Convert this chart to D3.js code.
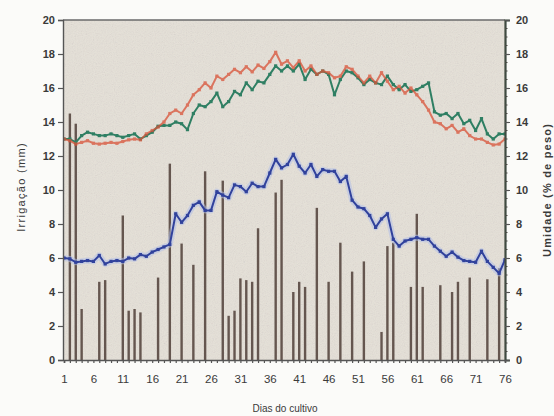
<!DOCTYPE html>
<html>
<head>
<meta charset="utf-8">
<script src="https://cdn.jsdelivr.net/npm/d3@7"></script>
<style>
  body { margin: 0; background: #fbfbf9; }
  svg { display: block; }
  text { font-family: "Liberation Sans", Arial, sans-serif; fill: #3a3a3a; }
</style>
</head>
<body>
<svg id="chart" width="554" height="416"></svg>
<script>
// irrigation events: day of cultivation and applied depth (mm)
const irrigDays = [2, 3, 4, 7, 8, 11, 12, 13, 14, 17, 19, 21, 23, 25, 28, 29, 30, 31, 32, 33, 34,
  37, 38, 40, 41, 42, 44, 46, 48, 50, 52, 55, 56, 57, 60, 61, 62, 65, 67, 68, 70, 73, 75]
const irrigMm = [14.5, 13.9, 3.0, 4.6, 4.7, 8.5, 2.9, 3.0, 2.8, 4.85, 11.55, 6.85, 5.6, 11.1, 10.55, 2.6, 2.9, 4.8, 4.7, 4.6, 7.75,
  9.85, 10.6, 4.0, 4.6, 4.3, 8.95, 4.6, 6.9, 5.2, 5.8, 1.65, 6.7, 6.9, 4.3, 8.6, 4.3, 4.4, 4.0, 4.6, 4.85, 4.75, 5.4]

// soil moisture (% by weight), one value per day 1..76
const umidRed = [13.0, 12.9, 12.7, 12.8, 12.9, 12.75, 12.7, 12.75, 12.8, 12.75, 12.85, 12.95, 13.0, 12.95, 13.3, 13.5,
  13.7, 14.0, 14.5, 14.7, 14.5, 15.0, 15.6, 15.9, 16.3, 16.0, 16.7, 16.5, 16.8, 17.1, 16.9, 17.25, 16.95, 17.35, 17.15,
  17.55, 18.1, 17.4, 17.6, 17.2, 17.6, 17.0, 17.3, 16.8, 17.0, 16.9, 16.6, 16.7, 17.25, 17.1, 16.7, 16.3, 16.7, 16.3,
  16.9, 16.4, 15.9, 16.1, 15.7, 16.0, 15.6, 15.2, 14.7, 14.0, 13.9, 13.6, 13.8, 13.4, 13.6, 13.2, 13.0, 13.0, 12.8,
  12.65, 12.7, 13.0]
const umidGreen = [13.0, 13.0, 12.8, 13.2, 13.4, 13.3, 13.2, 13.2, 13.3, 13.2, 13.1, 13.2, 13.3, 13.0, 13.2, 13.4,
  13.75, 13.8, 13.8, 14.0, 13.9, 13.55, 14.5, 15.0, 14.9, 15.2, 15.7, 14.9, 15.2, 15.8, 15.6, 16.3, 15.9, 16.4, 16.3,
  16.8, 17.3, 17.0, 17.3, 17.0, 17.4, 16.5, 17.1, 16.8, 17.0, 16.8, 15.6, 16.5, 17.0, 16.9, 16.6, 16.2, 16.5, 16.3,
  16.2, 16.7, 16.2, 15.9, 16.2, 15.8, 15.9, 16.1, 16.3, 14.6, 14.4, 14.5, 14.2, 14.5, 13.9, 14.1, 13.5, 14.2, 13.3,
  13.0, 13.3, 13.3]
const umidBlue = [6.0, 5.95, 5.75, 5.8, 5.85, 5.8, 6.15, 5.65, 5.8, 5.85, 5.8, 6.0, 5.95, 6.2, 6.1, 6.35, 6.5, 6.65,
  6.8, 8.6, 8.1, 8.5, 9.1, 9.3, 8.8, 8.8, 9.9, 9.7, 9.55, 10.3, 10.2, 9.9, 10.4, 10.2, 10.2, 11.0, 11.8, 11.3, 11.5,
  12.1, 11.4, 11.0, 11.5, 10.8, 11.2, 11.1, 11.1, 10.5, 10.8, 9.4, 9.0, 8.9, 8.5, 7.8, 8.3, 8.6, 7.1, 6.7, 7.0, 7.1,
  7.2, 7.1, 7.1, 6.7, 6.4, 6.1, 6.35, 6.05, 5.85, 5.8, 5.75, 6.4, 5.8, 5.45, 5.1, 5.9]

const days = d3.range(1, 77)
const xTickLabels = d3.range(1, 77, 5)
const yTicks = d3.range(0, 21, 2)

const svg = d3.select("#chart")
const pLeft = 63, pRight = 505, pTop = 20, pBottom = 360

const x = d3.scaleLinear().domain([1, 76]).range([64, 505])
const y = d3.scaleLinear().domain([0, 20]).range([pBottom, pTop])

// grainy paper texture for the plotting area
const defs = svg.append("defs")
const grain = defs.append("filter").attr("id", "grain")
  .attr("x", 0).attr("y", 0).attr("width", "100%").attr("height", "100%")
grain.append("feTurbulence").attr("type", "fractalNoise")
  .attr("baseFrequency", 0.9).attr("numOctaves", 2).attr("seed", 7)
grain.append("feColorMatrix").attr("type", "saturate").attr("values", 0.2)
defs.append("clipPath").attr("id", "plotClip")
  .append("rect").attr("x", pLeft).attr("y", pTop).attr("width", pRight - pLeft).attr("height", pBottom - pTop)

svg.append("rect")
  .attr("x", pLeft).attr("y", pTop).attr("width", pRight - pLeft).attr("height", pBottom - pTop)
  .attr("fill", "#e6e1d8")
svg.append("rect")
  .attr("x", pLeft).attr("y", pTop).attr("width", pRight - pLeft).attr("height", pBottom - pTop)
  .attr("filter", "url(#grain)").attr("opacity", 0.2)

const plot = svg.append("g").attr("clip-path", "url(#plotClip)")

// irrigation bars
plot.append("g").selectAll("rect")
  .data(irrigDays.map((d, i) => ({ day: d, mm: irrigMm[i] })))
  .join("rect")
  .attr("x", d => x(d.day) - 1.2)
  .attr("width", 2.4)
  .attr("y", d => y(d.mm))
  .attr("height", d => y(0) - y(d.mm))
  .attr("fill", "#65564f")

const line = d3.line().x(d => x(d.day)).y(d => y(d.v))

function drawSeries(values, color, halo, alpha) {
  const pts = values.map((v, i) => ({ day: days[i], v: v }))
  const g = plot.append("g").attr("opacity", alpha || 1)
  if (halo) {
    g.append("path").datum(pts).attr("d", line)
      .attr("fill", "none").attr("stroke", halo).attr("stroke-width", 6)
      .attr("stroke-linejoin", "round").attr("opacity", 0.55)
  }
  g.append("path").datum(pts).attr("d", line)
    .attr("fill", "none").attr("stroke", color).attr("stroke-width", 2)
    .attr("stroke-linejoin", "round")
  g.selectAll("rect.mk").data(pts).join("rect")
    .attr("class", "mk")
    .attr("x", d => x(d.day) - 1.6).attr("y", d => y(d.v) - 1.6)
    .attr("width", 3.2).attr("height", 3.2)
    .attr("fill", color)
}

// green underneath, red laid over it semi-transparent so shared stretches read brown
drawSeries(umidGreen, "#2f7f63", null)
drawSeries(umidRed, "#d9543a", null, 0.76)
drawSeries(umidBlue, "#31429c", "#b3bfe8")

// frame and axes
svg.append("line").attr("x1", pLeft).attr("x2", pRight).attr("y1", pTop).attr("y2", pTop)
  .attr("stroke", "#6a6a6a").attr("stroke-width", 1.3)

const axisLeft = svg.append("g").attr("transform", `translate(${pLeft},0)`)
  .call(d3.axisLeft(y).tickValues(yTicks).tickSize(5).tickPadding(3))
const axisRight = svg.append("g").attr("transform", `translate(${pRight},0)`)
  .call(d3.axisRight(y).tickValues(yTicks).tickSize(5).tickPadding(6))
const axisBottom = svg.append("g").attr("transform", `translate(0,${pBottom})`)
  .call(d3.axisBottom(x).tickValues(days).tickSize(3).tickPadding(12)
    .tickFormat(d => xTickLabels.includes(d) ? d : ""))

// minor ticks along the right axis
svg.append("g").selectAll("line")
  .data(d3.range(0, 20.01, 0.5).filter(v => v % 2 !== 0))
  .join("line")
  .attr("x1", pRight).attr("x2", pRight + 2.5)
  .attr("y1", d => y(d)).attr("y2", d => y(d))
  .attr("stroke", "#4a4a44").attr("stroke-width", 1)

for (const ax of [axisLeft, axisRight, axisBottom]) {
  ax.select(".domain").attr("stroke", "#555").attr("stroke-width", 1.4)
  ax.selectAll(".tick line").attr("stroke", "#555").attr("stroke-width", 1.2)
  ax.selectAll(".tick text").attr("font-size", 11).attr("font-weight", "bold")
    .attr("fill", "#3d3d3d").style("font-family", '"Liberation Sans", Arial, sans-serif')
}
axisRight.select(".domain").attr("stroke", "#3f4a40").attr("stroke-width", 2.2)
axisBottom.select(".domain").attr("stroke-width", 1.6)
axisBottom.selectAll(".tick text").attr("font-weight", "normal").attr("font-size", 11.5)

// axis titles
svg.append("text")
  .attr("transform", "translate(25,187) rotate(-90)")
  .attr("text-anchor", "middle").attr("font-size", 11).attr("letter-spacing", 1.3)
  .text("Irrigação (mm)")
svg.append("text")
  .attr("transform", "translate(551,190) rotate(-90)")
  .attr("text-anchor", "middle").attr("font-size", 11).attr("font-weight", "bold")
  .attr("letter-spacing", 1.2)
  .text("Umidade (% de peso)")
svg.append("text")
  .attr("x", 285).attr("y", 412)
  .attr("text-anchor", "middle").attr("font-size", 10)
  .text("Dias do cultivo")
</script>
</body>
</html>
